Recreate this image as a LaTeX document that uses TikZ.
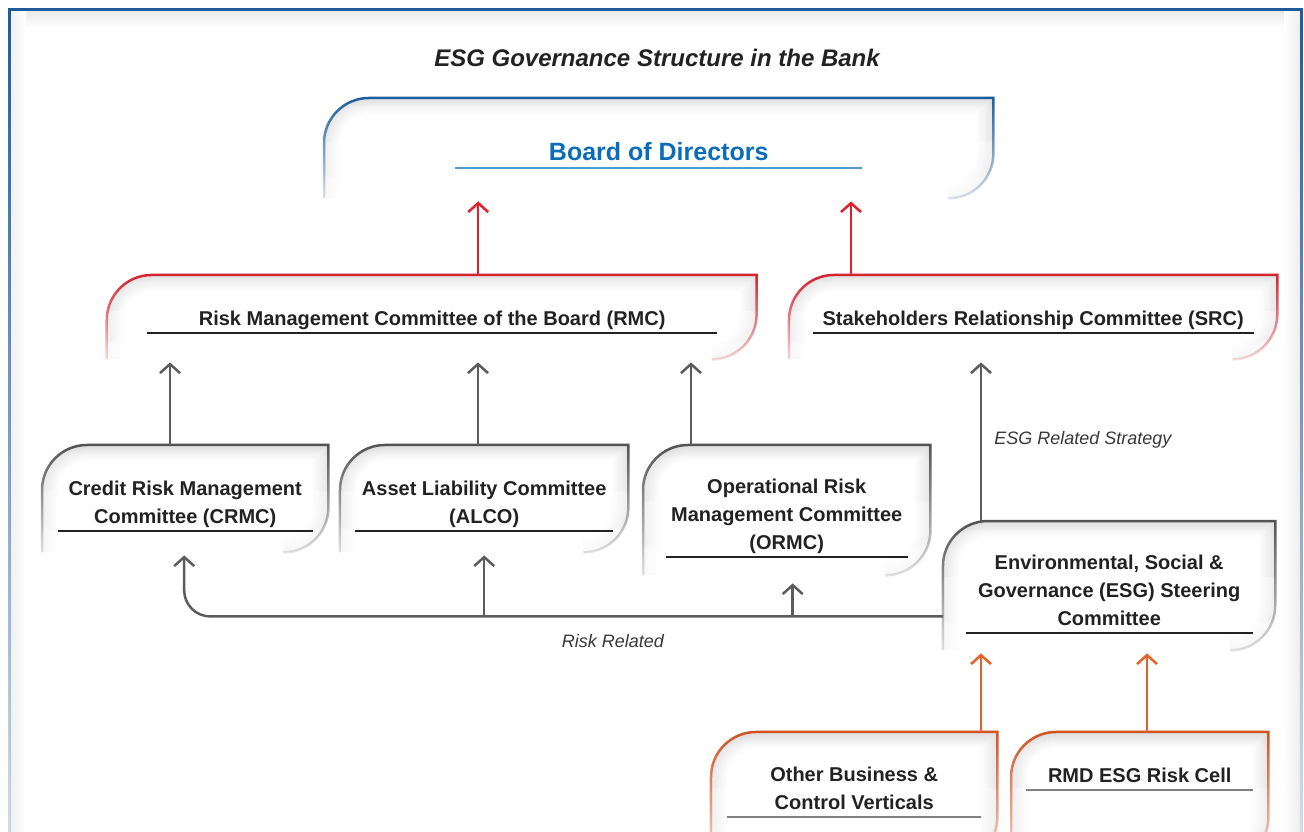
\documentclass[tikz,border=0pt]{standalone}
\usepackage{fontspec}
\setmainfont{Liberation Sans}
\usetikzlibrary{arrows.meta, positioning, fadings}

\definecolor{bodblue}{HTML}{1B5E9E}
\definecolor{bodtext}{HTML}{0B6DB9}
\definecolor{bodline}{HTML}{4E9BD6}
\definecolor{rmcred}{HTML}{D3222C}
\definecolor{arrred}{HTML}{E3202B}
\definecolor{boxgray}{HTML}{525252}
\definecolor{arrgray}{HTML}{5C5C5C}
\definecolor{esgorange}{HTML}{D2521F}
\definecolor{arrorange}{HTML}{EA6127}
\definecolor{textdark}{HTML}{222222}
\definecolor{framebl}{HTML}{1A5C9C}

\tikzfading[name=boxfade, top color=transparent!0, bottom color=transparent!85]
\tikzfading[name=framefade, top color=transparent!0, bottom color=transparent!80]

\newcommand{\cornerr}{45pt}
\newcommand{\boxline}[1]{(#1.south west) -- ([yshift=-\cornerr]#1.north west) arc[start angle=180, end angle=90, radius=\cornerr] -- (#1.north east) -- ([yshift=\cornerr]#1.south east) arc[start angle=0, end angle=-90, radius=\cornerr]}

\begin{document}
\begin{tikzpicture}[x=1pt, y=1pt,
    orgbox/.style={rectangle, anchor=north west, inner sep=0pt},
    boxtext/.style={font=\bfseries\fontsize{20}{28}\selectfont, text=textdark, align=center,
        anchor=south, inner xsep=0pt, inner ysep=4pt, text depth=3pt},
    boardtext/.style={boxtext, font=\bfseries\fontsize{25}{30}\selectfont, text=bodtext},
    note/.style={font=\itshape\fontsize{18}{22}\selectfont, text=textdark!90},
    uline/.style={line width=1.3pt, textdark},
    arr/.style={line width=2.5pt, -{Straight Barb[length=9pt, width=20pt]}, shorten >=3pt},
    redarr/.style={arr, arrred},
    grayarr/.style={arr, arrgray},
    orangearr/.style={arr, arrorange}
  ]

  \useasboundingbox (0,0) rectangle (1304,-832);
  \clip (0,0) rectangle (1304,-832);

  % frame
  \shade[top color=black!9, bottom color=white] (10,-10) rectangle (1300,-28);
  \shade[left color=black!6, right color=white] (10,-10) rectangle (26,-832);
  \shade[left color=white, right color=black!7] (1284,-10) rectangle (1300,-832);
  \draw[framebl, line width=3pt, path fading=framefade] (9,-832) -- (9,-9) -- (1301,-9) -- (1301,-832);

  \node[note, font=\bfseries\itshape\fontsize{24}{28}\selectfont, text=textdark] (title) at (657,-58) {ESG Governance Structure in the Bank};

  % boxes
  \node[orgbox, minimum width=669pt, minimum height=100pt] (bod) at (324,-98) {};
  \node[orgbox, minimum width=650pt, minimum height=84pt] (rmc) at (107,-275) {};
  \node[orgbox, minimum width=488pt, minimum height=84pt] (src) at (789,-275) {};
  \node[orgbox, minimum width=286pt, minimum height=107pt] (crmc) at (42,-445) {};
  \node[orgbox, minimum width=288pt, minimum height=107pt] (alco) at (340,-445) {};
  \node[orgbox, minimum width=287pt, minimum height=130pt] (ormc) at (643,-445) {};
  \node[orgbox, minimum width=332pt, minimum height=129pt] (esg) at (943,-521) {};
  \node[orgbox, minimum width=286pt, minimum height=130pt] (obcv) at (711,-732) {};
  \node[orgbox, minimum width=257pt, minimum height=130pt] (rmd) at (1011,-732) {};

  \foreach \n/\c in {bod/bodblue, rmc/rmcred, src/rmcred, crmc/boxgray, alco/boxgray,
      ormc/boxgray, esg/boxgray, obcv/esgorange, rmd/esgorange}{
    \begin{scope}
      \clip \boxline{\n} -- cycle;
      \fill[white] (\n.south west) rectangle (\n.north east);
      \foreach \w in {4,8,...,32}
        \draw[black, opacity=0.014, line width=\w pt, path fading=boxfade] \boxline{\n};
    \end{scope}
    \draw[\c, line width=2.5pt, path fading=boxfade] \boxline{\n};
  }

  % texts
  \node[boardtext, minimum width=407pt] (bodt) at ([yshift=-70pt]bod.north) {Board of Directors};
  \node[boxtext, minimum width=570pt] (rmct) at ([yshift=-58pt]rmc.north) {Risk Management Committee of the Board (RMC)};
  \node[boxtext, minimum width=441pt] (srct) at ([yshift=-58pt]src.north) {Stakeholders Relationship Committee (SRC)};
  \node[boxtext, minimum width=255pt] (crmct) at ([yshift=-86pt]crmc.north) {Credit Risk Management\\Committee (CRMC)};
  \node[boxtext, minimum width=258pt] (alcot) at ([yshift=-86pt]alco.north) {Asset Liability Committee\\(ALCO)};
  \node[boxtext, minimum width=242pt] (ormct) at ([yshift=-112pt]ormc.north) {Operational Risk\\Management Committee\\(ORMC)};
  \node[boxtext, minimum width=287pt] (esgt) at ([yshift=-112pt]esg.north) {Environmental, Social \&\\Governance (ESG) Steering\\Committee};
  \node[boxtext, minimum width=254pt] (obcvt) at ([yshift=-85pt]obcv.north) {Other Business \&\\Control Verticals};
  \node[boxtext, minimum width=227pt] (rmdt) at ([yshift=-58pt]rmd.north) {RMD ESG Risk Cell};

  \draw[uline, bodline] (bodt.south west) -- (bodt.south east);
  \foreach \t in {rmct, srct, crmct, alcot, ormct, esgt}
    \draw[uline] (\t.south west) -- (\t.south east);
  \foreach \t in {obcvt, rmdt}
    \draw[uline, line width=2pt, black!50] (\t.south west) -- (\t.south east);

  % connectors
  \draw[redarr] ([xshift=46pt]rmc.north) coordinate (r1) -- (r1 |- bod.south);
  \draw[redarr] ([xshift=62pt]src.north west) coordinate (r2) -- (r2 |- bod.south);

  \draw[grayarr] ([xshift=128pt]crmc.north west) coordinate (g1) -- (g1 |- rmc.south);
  \draw[grayarr] ([xshift=138pt]alco.north west) coordinate (g2) -- (g2 |- rmc.south);
  \draw[grayarr] ([xshift=48pt]ormc.north west) coordinate (g3) -- (g3 |- rmc.south);
  \draw[grayarr] ([xshift=38pt]esg.north west) coordinate (g4) -- (g4 |- src.south)
    node[note, midway, right=12pt, inner sep=0pt] (strat) {ESG Related Strategy};

  \draw[grayarr, rounded corners=26pt] ([yshift=34pt]esg.south west) coordinate (bus) -| ([xshift=-1pt]crmc.south);
  \draw[grayarr] (alco.south |- bus) -- (alco.south);
  \draw[grayarr, shorten >=8pt] ([xshift=6pt]ormc.south |- bus) -- ([xshift=6pt]ormc.south);
  \node[note] (riskrel) at (613,-641) {Risk Related};

  \draw[orangearr] ([xshift=270pt]obcv.north west) coordinate (o1) -- (o1 |- esg.south);
  \draw[orangearr] ([xshift=136pt]rmd.north west) coordinate (o2) -- (o2 |- esg.south);

\end{tikzpicture}
\end{document}
